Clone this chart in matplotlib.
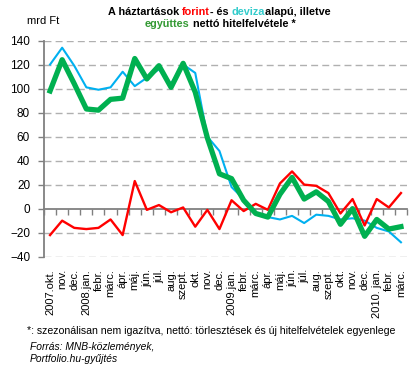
import numpy as np
import matplotlib
matplotlib.use("Agg")
from matplotlib import pyplot as plt

plt.rcParams['font.family'] = ['Liberation Sans', 'DejaVu Sans']

# honapok 2007.okt - 2010.marc
months = ['2007.okt.', 'nov.', 'dec.', '2008.jan.', 'febr.', 'márc.', 'ápr.', 'máj.',
          'jún.', 'júl.', 'aug.', 'szept.', 'okt.', 'nov.', 'dec.', '2009.jan.', 'febr.',
          'márc.', 'ápr.', 'máj.', 'jún.', 'júl.', 'aug.', 'szept.', 'okt.', 'nov.', 'dec.',
          '2010. jan.', 'febr.', 'márc.']

# mrd Ft
deviza = [120, 134, 119, 101, 99, 101, 114, 102, 109, 116, 104, 120, 113, 60, 48,
          18, 8, -5, -7, -9, -6, -12, -5, -6, -9, -8, -10, -16, -19, -28]
forint = [-22, -10, -16, -17, -16, -9, -22, 23, -1, 3, -3, 1, -15, -1, -17,
          7, -2, 4, -1, 21, 31, 20, 19, 13, -4, 8, -14, 8, 1, 13]
egyutt = [98, 124, 104, 83, 82, 91, 92, 125, 108, 119, 101, 121, 97, 59, 29,
          25, 7, -4, -7, 12, 26, 8, 14, 6, -13, 0, -23, -9, -17, -15]

yticks = [-40, -20, 0, 20, 40, 60, 80, 100, 120, 140]

fig = plt.figure(figsize=(4.18, 3.77), dpi=100, facecolor="w")
ax = fig.add_axes([44/418, 1 - 256.7/377, 363/418, 216.2/377])

x = np.arange(len(months))
ax.plot(x, deviza, color="#00B0F0", lw=1.5)
ax.plot(x, forint, color="#FF0000", lw=1.7)
ax.plot(x, egyutt, color="#00B050", lw=3.8)

ax.set_xlim(-0.5, len(months) - 0.5)
ax.set_ylim(-40, 140)
ax.set_yticks(yticks)
for v in yticks:
    if v != 0:
        ax.axhline(v, color="#B0B0B0", lw=1, ls=(0, (5, 3)), zorder=0)

ax.set_xticks(x)
ax.set_xticklabels(months, rotation=90, fontsize=8)
ax.tick_params(axis="x", length=0, pad=9)
ax.tick_params(axis="y", length=4, color="#808080", width=1, labelsize=8.5, pad=6)
for s in ["top", "right", "bottom"]:
    ax.spines[s].set_visible(False)
ax.spines["left"].set_color("#808080")
ax.spines["left"].set_linewidth(1.3)

# 0-s tengely a kategoriak kozti jelolesekkel
sec = ax.secondary_xaxis(40/180)
sec.set_xticks(np.arange(-0.5, len(months), 1))
sec.set_xticklabels([])
sec.tick_params(length=4, color="#808080", width=1, direction="out")
sec.spines["bottom"].set_color("#808080")
sec.spines["bottom"].set_linewidth(1.3)

# cim tobb szinnel, darabonkent egymas utan
def colored_line(parts, x0, y0, fs=7.8):
    t = fig.text(x0, y0, parts[0][0], color=parts[0][1], fontsize=fs,
                 fontweight="bold", va="bottom")
    for txt, col in parts[1:]:
        t = ax.annotate(txt, xy=(1, 0), xycoords=t, va="bottom", color=col,
                        fontsize=fs, fontweight="bold", annotation_clip=False)
    return t

colored_line([("A háztartások ", "black"), ("forint", "#FF0000"), ("- és ", "black"),
              ("deviza", "#33CCCC"), ("alapú, illetve", "black")], 108/418, 1 - 17/377)
colored_line([("együttes", "#339933"), (" nettó hitelfelvétele *", "black")],
             145/418, 1 - 29/377)

fig.text(27/418, 1 - 21/377, "mrd Ft", fontsize=8, va="center")
fig.text(27/418, 1 - 331/377,
         "*: szezonálisan nem igazítva, nettó: törlesztések és új hitelfelvételek egyenlege",
         fontsize=7.6, va="center")
fig.text(30/418, 1 - 347/377, "Forrás: MNB-közlemények,", fontsize=7.4, style="italic", va="center")
fig.text(30/418, 1 - 359/377, "Portfolio.hu-gyűjtés", fontsize=7.4, style="italic", va="center")

plt.savefig("out.png", dpi=100, facecolor="w")
